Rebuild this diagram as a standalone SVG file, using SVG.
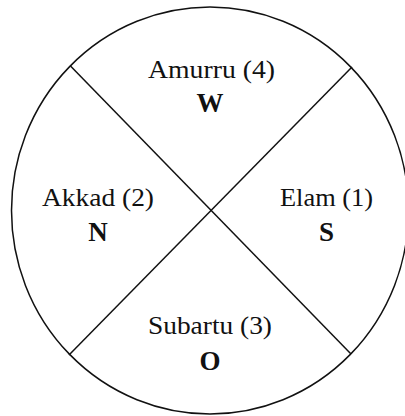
<svg xmlns="http://www.w3.org/2000/svg" width="405" height="416" viewBox="0 0 405 416">
<style>
.ln{fill:none;stroke:#111;stroke-width:1.5}
.t{font-family:"Liberation Serif","Times New Roman",serif;font-size:26px;fill:#111;text-anchor:middle}
.b{font-family:"Liberation Serif","Times New Roman",serif;font-size:27px;font-weight:bold;fill:#111;text-anchor:middle}
</style>
<rect width="405" height="416" fill="#fff"/>
<g id="connectors">
<ellipse class="ln" cx="210" cy="210.5" rx="198.5" ry="203.5"/>
<line class="ln" x1="70.5" y1="66" x2="351" y2="354"/>
<line class="ln" x1="352" y1="67" x2="69" y2="355"/>
</g>
<g id="amurru"><text class="t" x="211.5" y="77.5" textLength="127" lengthAdjust="spacingAndGlyphs">Amurru (4)</text><text class="b" x="210" y="111.5">W</text></g>
<g id="akkad"><text class="t" x="98" y="205.5" textLength="112" lengthAdjust="spacingAndGlyphs">Akkad (2)</text><text class="b" x="98" y="240.5">N</text></g>
<g id="elam"><text class="t" x="326.5" y="205.5" textLength="93" lengthAdjust="spacingAndGlyphs">Elam (1)</text><text class="b" x="326.5" y="240.5">S</text></g>
<g id="subartu"><text class="t" x="210" y="333.5" textLength="124" lengthAdjust="spacingAndGlyphs">Subartu (3)</text><text class="b" x="210" y="369.5">O</text></g>
</svg>
